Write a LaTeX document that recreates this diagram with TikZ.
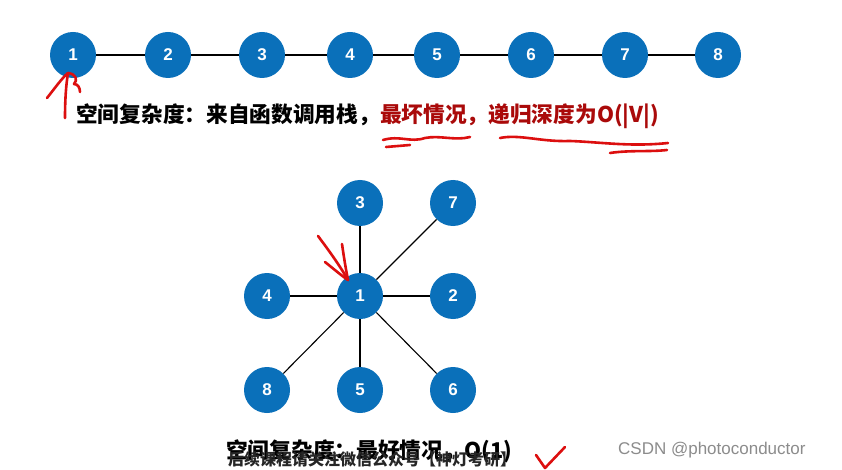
\documentclass[tikz,border=0pt]{standalone}
\usepackage{fontspec}
\setmainfont{Liberation Sans}
\newfontfamily\cjk{Noto Sans CJK SC}
\newfontfamily\numfont{Liberation Sans}
\definecolor{nodeblue}{RGB}{10,112,186}
\definecolor{darkred}{RGB}{170,10,10}
\definecolor{penred}{RGB}{220,15,15}
\begin{document}
\begin{tikzpicture}[x=1pt,y=-1pt,
  vert/.style={circle,fill=nodeblue,draw=none,minimum size=46pt,inner sep=0pt,text=white,font=\numfont\bfseries\fontsize{17}{17}\selectfont},
  edge/.style={black,line width=1.1pt},
  pen/.style={penred,line width=2.6pt,line cap=round,line join=round},
  cjktext/.style={anchor=west,inner sep=0pt,font=\cjk\bfseries\fontsize{21.7}{22}\selectfont}]
\useasboundingbox (0,0) rectangle (842,470);
\fill[white] (0,0) rectangle (842,470);
% top chain
\foreach \n/\x in {1/73,2/168,3/262,4/350,5/437,6/531,7/625,8/718}{
  \node[vert] (t\n) at (\x,55) {\n};
}
\foreach \a/\b in {1/2,2/3,3/4,4/5,5/6,6/7,7/8}{
  \draw[edge] (t\a) -- (t\b);
}
% text line 1
\node[cjktext] (l1) at (76,116) {空间复杂度：来自函数调用栈，\textcolor{darkred}{最坏情况，递归深度为O(|V|)}};
% star graph
\node[vert] (s1) at (360,296) {1};
\node[vert] (s3) at (360,203) {3};
\node[vert] (s7) at (453,203) {7};
\node[vert] (s4) at (267,296) {4};
\node[vert] (s2) at (453,296) {2};
\node[vert] (s8) at (267,390) {8};
\node[vert] (s5) at (360,390) {5};
\node[vert] (s6) at (453,390) {6};
\foreach \b in {3,7,4,2,8,5,6}{
  \draw[edge] (s1) -- (s\b);
}
% bottom text
\node[cjktext] (l2) at (226,451) {空间复杂度：最好情况，O(1)};
\node[anchor=west,inner sep=0pt,font=\cjk\bfseries\fontsize{16}{16}\selectfont,text=black!85] (l3) at (228,459) {后续课程请关注微信公众号【神灯考研】};
% watermark
\node[anchor=west,inner sep=0pt,text=black!45,font=\numfont\fontsize{17}{17}\selectfont] (wm) at (618,450) {CSDN @photoconductor};
% red pen annotations
\coordinate (a1) at (68,73);
\draw[pen] (65,118) .. controls (65,100) and (66,85) .. (a1);
\draw[pen] (47,98) .. controls (55,88) and (62,78) .. (a1);
\draw[pen] (a1) .. controls (76,74) and (78,80) .. (74,84) .. controls (78,84) and (80,88) .. (80,92);
\draw[pen] (383,140) .. controls (400,135) and (410,143) .. (425,138) .. controls (440,135) and (455,141) .. (470,137);
\draw[pen] (386,147) -- (410,145);
\draw[pen] (500,138) .. controls (520,134) and (540,142) .. (570,141) .. controls (600,142) and (630,147) .. (668,143);
\draw[pen] (610,153) .. controls (630,150) and (650,152) .. (667,150);
\coordinate (a2) at (348,280);
\draw[pen] (318,236) .. controls (330,252) and (340,266) .. (a2);
\draw[pen] (325,262) .. controls (335,270) and (342,276) .. (a2);
\draw[pen] (342,244) .. controls (344,258) and (346,270) .. (a2);
\draw[pen] (536,455) -- (545,468) -- (565,447);
\end{tikzpicture}
\end{document}
